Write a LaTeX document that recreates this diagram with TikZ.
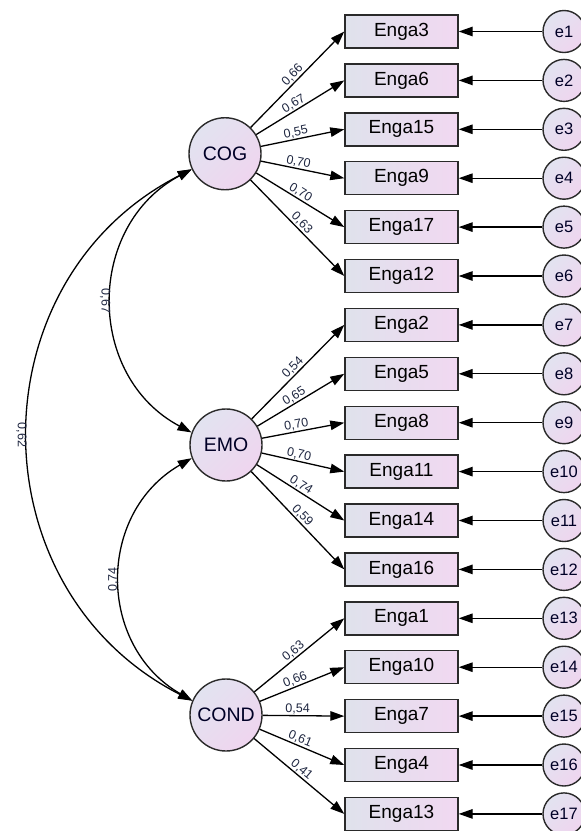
\documentclass[tikz,border=0pt]{standalone}
\usepackage{fontspec}
\setmainfont{Liberation Sans}
\usetikzlibrary{arrows.meta}

\definecolor{boxL}{HTML}{DFE2EC}
\definecolor{boxR}{HTML}{F1D8F1}
\definecolor{latA}{HTML}{E2E3F0}
\definecolor{latB}{HTML}{EFD5EF}
\definecolor{edgecol}{HTML}{2A2A2A}
\definecolor{lblcol}{HTML}{1E2640}

\tikzset{
  obs/.style={draw=edgecol, line width=1.4pt, minimum width=113pt, minimum height=33pt,
    inner sep=0pt, left color=boxL, right color=boxR, text=black,
    font=\fontsize{19}{22}\selectfont},
  lat/.style={circle, draw=edgecol, line width=1.4pt, minimum size=72pt, inner sep=0pt,
    left color=latA, right color=latB, shading angle=45, text=black!85!blue,
    font=\fontsize{19.5}{22}\selectfont},
  err/.style={circle, draw=edgecol, line width=1.4pt, minimum size=42pt, inner sep=0pt,
    left color=latA, right color=latB, shading angle=45, text=black!85!blue,
    font=\fontsize{16.5}{19}\selectfont},
  arr/.style={-{Triangle[length=14pt,width=9.5pt]}, line width=1.3pt, draw=black},
  cov/.style={{Triangle[length=14pt,width=9.5pt]}-{Triangle[length=14pt,width=9.5pt]},
    line width=1.3pt, draw=black},
  lbl/.style={font=\fontsize{12.5}{14}\selectfont, text=lblcol, inner sep=1.2pt}
}

\begin{document}
\begin{tikzpicture}[x=1pt,y=1pt]
  \useasboundingbox (0,0) rectangle (581,-831);
  \clip (0,0) rectangle (581,-831);

  % latent factors
  \node[lat] (COG)  at (225,-153.75) {COG};
  \node[lat] (EMO)  at (226,-445)    {EMO};
  \node[lat] (COND) at (226,-715)    {COND};

  % indicators with their error terms
  \foreach \i/\nm in {0/Enga3,1/Enga6,2/Enga15,3/Enga9,4/Enga17,5/Enga12,
                      6/Enga2,7/Enga5,8/Enga8,9/Enga11,10/Enga14,11/Enga16,
                      12/Enga1,13/Enga10,14/Enga7,15/Enga4,16/Enga13}{
    \pgfmathsetmacro\yy{-(31.5+48.9*\i)}
    \pgfmathtruncatemacro\k{\i+1}
    \node[obs] (\nm) at (401.5,\yy) {\nm};
    \node[err] (e\k) at (564,\yy) {e\k};
    \draw[arr] (e\k) -- (\nm);
  }

  % factor loadings
  \foreach \lt/\nm/\lv in {COG/Enga3/{0,66},COG/Enga6/{0,67},COG/Enga15/{0,55},
                          COG/Enga9/{0,70},COG/Enga17/{0,70},COG/Enga12/{0,63},
                          EMO/Enga2/{0,54},EMO/Enga5/{0,65},EMO/Enga8/{0,70},
                          EMO/Enga11/{0,70},EMO/Enga14/{0,74},EMO/Enga16/{0,59},
                          COND/Enga1/{0,63},COND/Enga10/{0,66},COND/Enga7/{0,54},
                          COND/Enga4/{0,61},COND/Enga13/{0,41}}{
    \draw[arr] (\lt) -- (\nm.west);
    \path (\lt.center) -- node[lbl, pos=0.605, sloped, above] {\lv} (\nm.west);
  }

  % covariances between factors
  \draw[cov] (COG.205) to[out=207, in=153, looseness=1.18]
    node[lbl, pos=0.5, anchor=north, rotate=-90] {0,62} (COND.157);
  \draw[cov] (COG.205) to[out=208, in=152, looseness=1.17]
    node[lbl, pos=0.5, anchor=north, rotate=-90] {0,67} (EMO.160);
  \draw[cov] (EMO.201) to[out=210, in=150, looseness=1.16]
    node[lbl, pos=0.5, anchor=south, rotate=90] {0,74} (COND.157);
\end{tikzpicture}
\end{document}
